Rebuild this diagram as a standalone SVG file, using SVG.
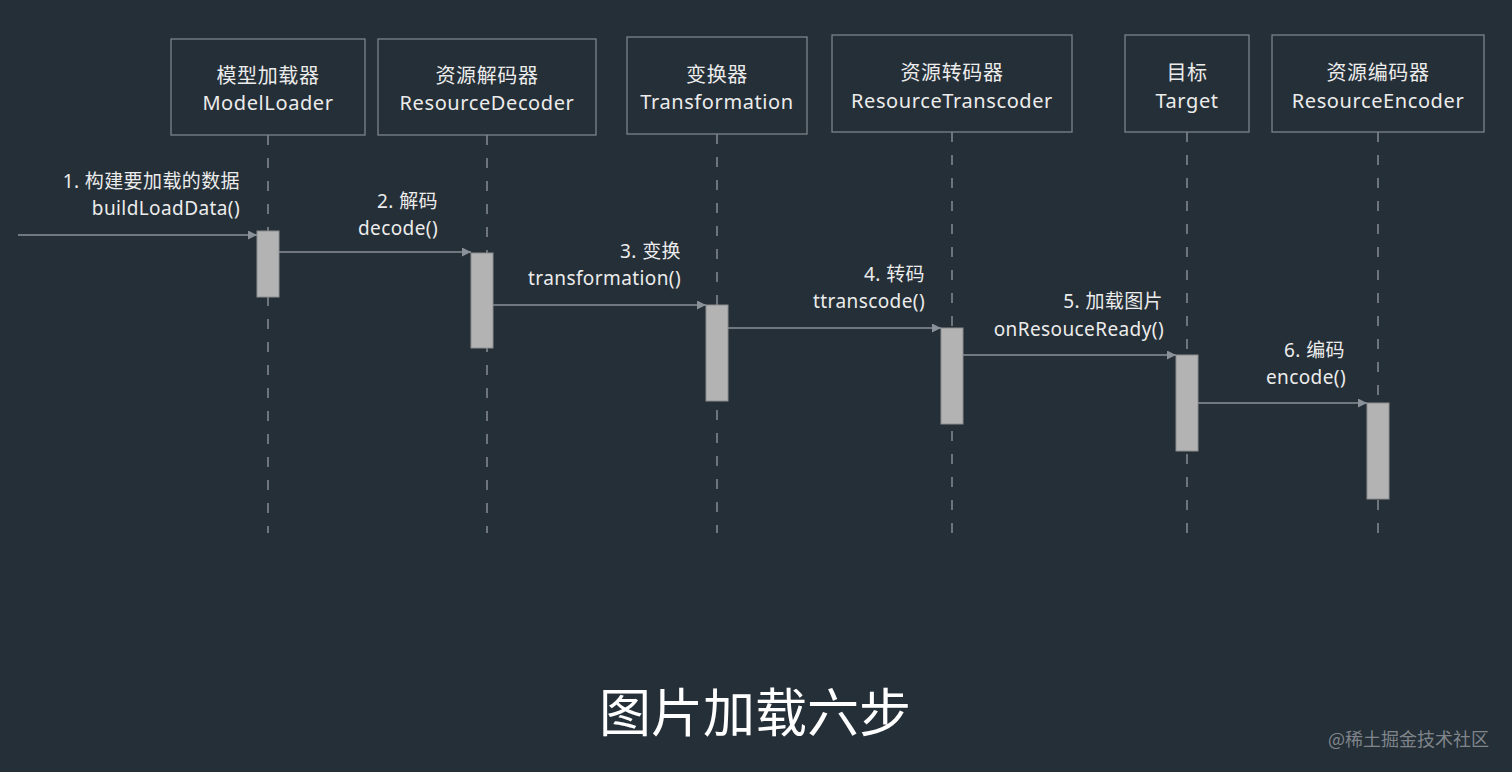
<svg xmlns="http://www.w3.org/2000/svg" width="1512" height="772" viewBox="0 0 1512 772">
<defs>
<style>
.bg{fill:#252f37}
.box{fill:none;stroke:#7b838a;stroke-width:1.3}
.t{font-family:"Noto Sans","Noto Sans CJK SC",sans-serif;font-size:19px;fill:#ececec;letter-spacing:0.4px}
.h{font-size:20px;letter-spacing:0.6px}
.c{text-anchor:middle}
.r{text-anchor:end}
.life{stroke:#858c93;stroke-width:1.5;stroke-dasharray:10 13;fill:none}
.act{fill:#b3b3b3;stroke:#8e8e8e;stroke-width:1}
.msg{stroke:#8a9198;stroke-width:1.5;fill:none;marker-end:url(#ah)}
.title{font-family:"Noto Sans CJK SC","Noto Sans",sans-serif;font-size:52px;fill:#ffffff;text-anchor:middle}
.wm{font-family:"Noto Sans CJK SC","Noto Sans",sans-serif;font-size:18px;fill:#7f858b;text-anchor:end}
</style>
<marker id="ah" viewBox="0 0 10 10" refX="10" refY="5" markerWidth="6" markerHeight="6" orient="auto" markerUnits="strokeWidth">
<path d="M0,0 L10,5 L0,10 Z" fill="#8a9198"/>
</marker>
</defs>
<rect class="bg" x="0" y="0" width="1512" height="772"/>

<g id="lifelines">
<line class="life" x1="268" y1="135" x2="268" y2="533"/>
<line class="life" x1="487" y1="135" x2="487" y2="533"/>
<line class="life" x1="717" y1="134" x2="717" y2="533"/>
<line class="life" x1="952" y1="132" x2="952" y2="533"/>
<line class="life" x1="1187" y1="132" x2="1187" y2="533"/>
<line class="life" x1="1378" y1="132" x2="1378" y2="533"/>
</g>

<g id="node-modelloader">
<rect class="box" x="171" y="39" width="194" height="96"/>
<text class="t h c" x="268" y="83">模型加载器</text>
<text class="t h c" x="268" y="110">ModelLoader</text>
<rect class="act" x="257" y="231" width="22" height="66"/>
</g>
<g id="node-resourcedecoder">
<rect class="box" x="378" y="39" width="218" height="96"/>
<text class="t h c" x="487" y="83">资源解码器</text>
<text class="t h c" x="487" y="110">ResourceDecoder</text>
<rect class="act" x="471" y="253" width="22" height="95"/>
</g>
<g id="node-transformation">
<rect class="box" x="627" y="37" width="180" height="97"/>
<text class="t h c" x="717" y="82">变换器</text>
<text class="t h c" x="717" y="109">Transformation</text>
<rect class="act" x="706" y="305" width="22" height="96"/>
</g>
<g id="node-resourcetranscoder">
<rect class="box" x="832" y="35" width="240" height="97"/>
<text class="t h c" x="952" y="80">资源转码器</text>
<text class="t h c" x="952" y="108">ResourceTranscoder</text>
<rect class="act" x="941" y="328" width="22" height="96"/>
</g>
<g id="node-target">
<rect class="box" x="1125" y="35" width="124" height="97"/>
<text class="t h c" x="1187" y="80">目标</text>
<text class="t h c" x="1187" y="108">Target</text>
<rect class="act" x="1176" y="355" width="22" height="96"/>
</g>
<g id="node-resourceencoder">
<rect class="box" x="1272" y="35" width="212" height="97"/>
<text class="t h c" x="1378" y="80">资源编码器</text>
<text class="t h c" x="1378" y="108">ResourceEncoder</text>
<rect class="act" x="1367" y="403" width="22" height="96"/>
</g>

<g id="connectors">
<line class="msg" x1="18" y1="235" x2="257" y2="235"/>
<line class="msg" x1="279" y1="252" x2="471" y2="252"/>
<line class="msg" x1="493" y1="305" x2="706" y2="305"/>
<line class="msg" x1="728" y1="328" x2="941" y2="328"/>
<line class="msg" x1="963" y1="355" x2="1176" y2="355"/>
<line class="msg" x1="1198" y1="403" x2="1367" y2="403"/>
</g>

<g id="labels">
<text class="t r" x="240" y="188">1. 构建要加载的数据</text>
<text class="t r" x="240" y="215">buildLoadData()</text>
<text class="t r" x="438" y="208">2. 解码</text>
<text class="t r" x="438" y="235">decode()</text>
<text class="t r" x="681" y="258">3. 变换</text>
<text class="t r" x="681" y="285">transformation()</text>
<text class="t r" x="925" y="281">4. 转码</text>
<text class="t r" x="925" y="308">ttranscode()</text>
<text class="t r" x="1163" y="308">5. 加载图片</text>
<text class="t r" x="1164" y="336">onResouceReady()</text>
<text class="t r" x="1345" y="357">6. 编码</text>
<text class="t r" x="1346" y="384">encode()</text>
</g>

<text class="title" x="755" y="732">图片加载六步</text>
<text class="wm" x="1489" y="746">@稀土掘金技术社区</text>
</svg>
